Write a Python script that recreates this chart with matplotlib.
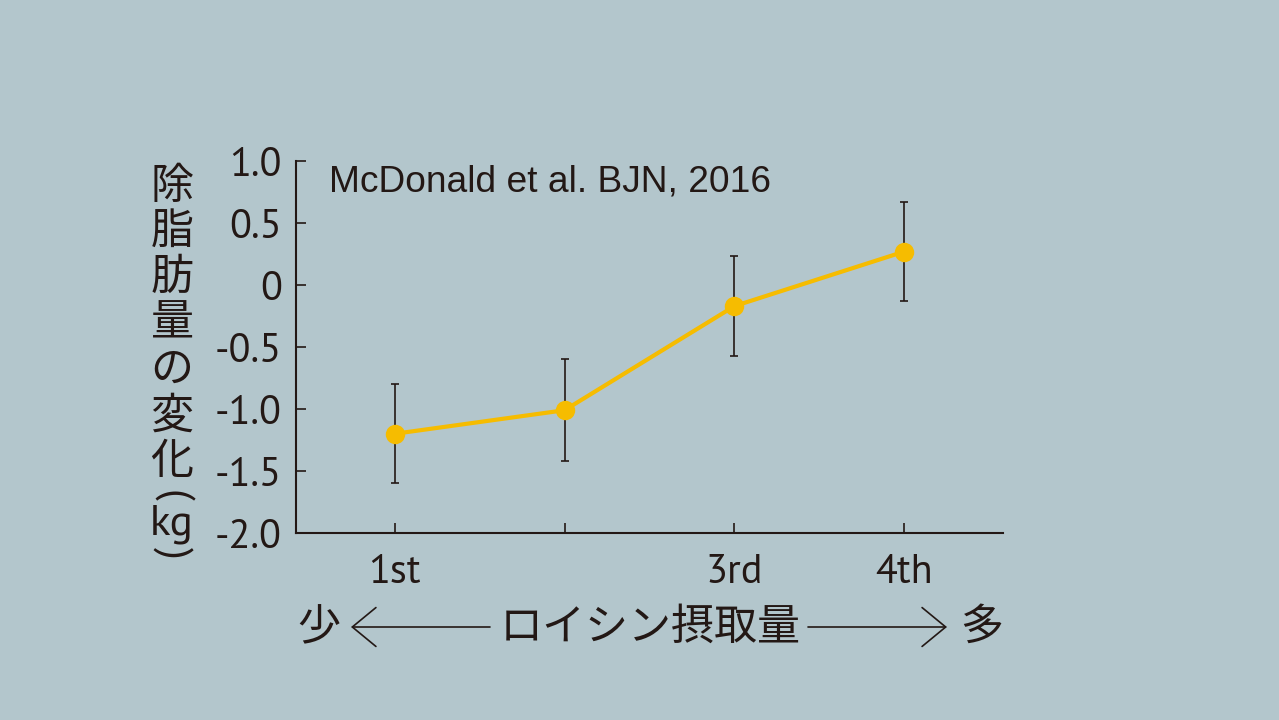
import matplotlib
matplotlib.use("Agg")
import matplotlib.pyplot as plt
from matplotlib import font_manager
from matplotlib.patches import FancyArrowPatch, ArrowStyle

# ---- data ----
quartiles = [1, 2, 3, 4]
xtick_labels = ["1st", "", "3rd", "4th"]
change_kg = [-1.2, -1.01, -0.17, 0.27]
err_kg = [0.40, 0.41, 0.40, 0.40]
yticks = [1.0, 0.5, 0.0, -0.5, -1.0, -1.5, -2.0]
ytick_labels = ["1.0", "0.5", "0", "-0.5", "-1.0", "-1.5", "-2.0"]
ylabel_chars = ["除", "脂", "肪", "量", "の", "変", "化", "(", "kg", ")"]
xlabel_text = "ロイシン摂取量"
left_word = "少"
right_word = "多"
source_text = "McDonald et al. BJN, 2016"

BG = "#B3C6CC"
INK = "#231815"
GOLD = "#F6BC00"
W, H = 1279, 720

names = {f.name for f in font_manager.fontManager.ttflist}
NUMF = "Liberation Sans"
for cand in ["PT Sans", "Source Sans 3", "PT Sans Narrow", "Liberation Sans Narrow"]:
    if cand in names:
        NUMF = cand
        break
CJK = ["Noto Sans CJK JP", "DejaVu Sans"]

fig = plt.figure(figsize=(W / 100, H / 100), dpi=100, facecolor=BG)

def fx(px):
    return px / W

def fy(py):
    return 1 - py / H

ax = fig.add_axes([fx(296), fy(533), fx(1003) - fx(296), fy(161) - fy(533)])
ax.patch.set_alpha(0)

ax.errorbar(quartiles, change_kg, yerr=err_kg, fmt="none", ecolor=INK,
            elinewidth=1.2, capsize=3.2, capthick=1.2, zorder=2)
ax.plot(quartiles, change_kg, color=GOLD, lw=3.0, marker="o", markersize=14,
        markeredgewidth=0, zorder=3)

ax.set_xlim(0.42, 4.58)
ax.set_ylim(-2.0, 1.0)
ax.set_xticks(quartiles)
ax.set_xticklabels(xtick_labels, fontfamily=NUMF, fontsize=29, color=INK)
ax.set_yticks(yticks)
ax.set_yticklabels(ytick_labels, fontfamily=NUMF, fontsize=29, color=INK)
ax.tick_params(axis="both", direction="in", length=7.2, width=1.2, color=INK)
ax.tick_params(axis="y", pad=10)
ax.tick_params(axis="x", pad=15)
for s in ["top", "right"]:
    ax.spines[s].set_visible(False)
for s in ["left", "bottom"]:
    ax.spines[s].set_linewidth(1.5)
    ax.spines[s].set_color(INK)

fig.text(fx(329), fy(192), source_text, ha="left", va="baseline",
         fontfamily="Liberation Sans", fontsize=26.7, color=INK)

# vertical y label
ylab_y = [187, 232, 278, 323, 370, 417, 462, 496, 524, 553]
for ch, py in zip(ylabel_chars, ylab_y):
    if ch in "()":
        fig.text(fx(172), fy(py), ch, ha="center", va="center", fontsize=30,
                 family=[NUMF] + CJK, color=INK, rotation=-90,
                 rotation_mode="anchor")
    else:
        fam = [NUMF] + CJK if ch == "kg" else CJK
        fig.text(fx(172), fy(py), ch, ha="center", va="center", fontsize=31,
                 family=fam, color=INK)

# bottom label with arrows
for word, px in [(left_word, 319), (right_word, 982), (xlabel_text, 650)]:
    fig.text(fx(px), fy(628), word, ha="center", va="center", fontsize=31,
             family=CJK, color=INK)

style = ArrowStyle("->", head_length=17, head_width=14)
for a, b in [((490, 627), (351, 627)), ((808, 627), (947, 627))]:
    fig.add_artist(FancyArrowPatch((fx(a[0]), fy(a[1])), (fx(b[0]), fy(b[1])),
                                   transform=fig.transFigure, arrowstyle=style,
                                   mutation_scale=1, lw=1.2, color=INK,
                                   shrinkA=0, shrinkB=0))

fig.savefig("out.png", dpi=100, facecolor=BG)
